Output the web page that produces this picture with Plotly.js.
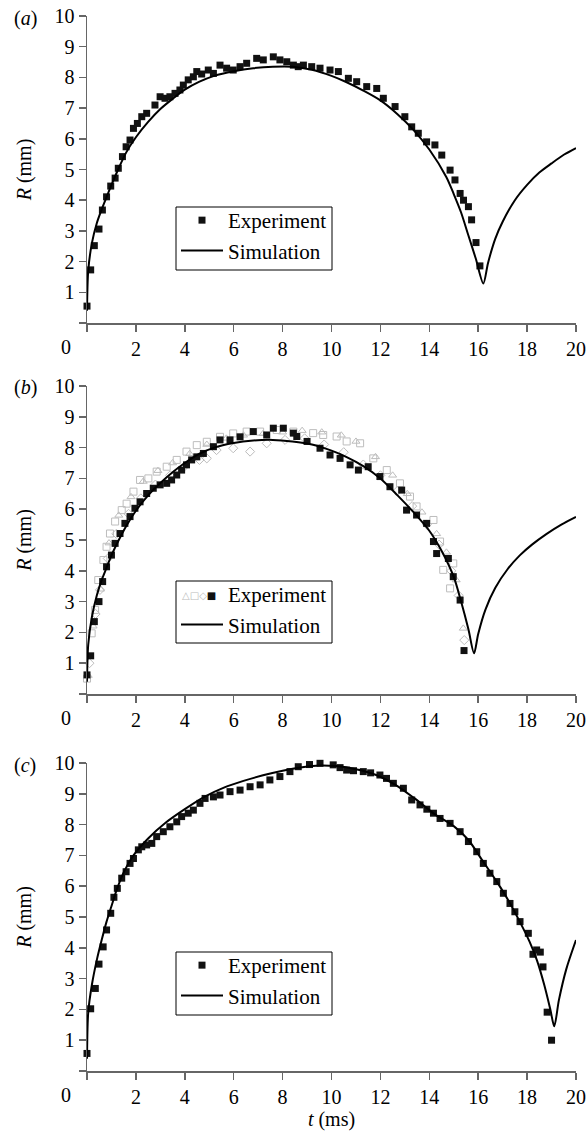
<!DOCTYPE html>
<html>
<head>
<meta charset="utf-8">
<script src="https://cdn.plot.ly/plotly-3.0.1.min.js"></script>
<style>html,body{margin:0;padding:0;background:#fff;}#chart{width:588px;height:1133px;}</style>
</head>
<body>
<div id="chart"></div>
<script>
// ---------- Panel (a) ----------
const expA_t = [0,0.15,0.3,0.49,0.63,0.8,0.97,1.15,1.28,1.45,1.6,1.76,1.9,2.06,2.24,2.44,2.78,2.99,3.19,3.39,3.6,3.8,3.94,4.14,4.35,4.49,4.69,4.96,5.17,5.44,5.71,5.98,6.26,6.53,6.94,7.21,7.62,7.89,8.17,8.44,8.64,8.85,9.19,9.53,9.94,10.28,10.69,11.03,11.44,11.85,12.12,12.6,13.0,13.28,13.55,13.89,14.23,14.51,14.85,15.05,15.26,15.4,15.6,15.73,15.91,16.07];
const expA_R = [0.55,1.73,2.52,3.06,3.68,4.11,4.46,4.72,5.04,5.42,5.74,5.96,6.34,6.5,6.72,6.83,7.1,7.37,7.32,7.37,7.48,7.59,7.75,7.92,8.02,8.19,8.11,8.24,8.13,8.4,8.3,8.24,8.35,8.46,8.62,8.57,8.67,8.57,8.51,8.4,8.35,8.4,8.35,8.3,8.24,8.19,7.97,7.86,7.7,7.64,7.32,7.05,6.72,6.39,6.18,5.9,5.8,5.47,4.98,4.66,4.22,4.0,3.79,3.36,2.62,1.86];
const simA_t = [0,0.05,0.2,0.4,0.6,0.8,1.0,1.3,1.6,2.0,2.5,3.0,3.5,4.0,4.6,5.2,6.0,6.8,7.6,8.4,9.2,10.0,10.6,11.3,12.0,12.7,13.35,14.0,14.7,15.0,15.3,15.6,15.9,16.21,16.4,16.7,17.0,17.5,18.0,18.5,19.0,19.5,20.0];
const simA_R = [0.4,1.7,2.6,3.25,3.7,4.1,4.5,5.05,5.55,6.05,6.55,6.97,7.3,7.6,7.86,8.05,8.2,8.3,8.35,8.35,8.25,8.05,7.85,7.57,7.25,6.8,6.29,5.65,4.75,4.2,3.6,2.85,2.1,1.29,1.95,2.75,3.3,4.0,4.5,4.9,5.2,5.48,5.7];

// ---------- Panel (b) ----------
const expB_sq_t = [0,0.15,0.3,0.49,0.64,0.8,1.0,1.15,1.35,1.55,1.76,1.96,2.17,2.44,2.71,2.99,3.26,3.46,3.67,3.87,4.07,4.28,4.49,4.76,5.17,5.44,5.85,6.26,6.8,7.35,7.62,8.03,8.44,8.58,9.0,9.53,9.94,10.35,10.76,11.1,11.5,11.98,12.39,12.87,13.07,13.48,13.89,14.17,14.3,14.78,14.98,15.26,15.42];
const expB_sq_R = [0.62,1.24,2.35,3.0,3.65,4.13,4.51,4.89,5.21,5.54,5.76,6.03,6.24,6.51,6.68,6.79,6.84,6.95,7.11,7.27,7.44,7.6,7.7,7.81,8.03,8.25,8.25,8.35,8.52,8.41,8.63,8.63,8.47,8.36,8.2,7.98,7.76,7.65,7.44,7.27,7.38,7.06,6.73,6.62,5.97,5.81,5.54,4.95,4.56,4.4,3.81,3.05,1.41];
const expB_os_t = [0,0.19,0.33,0.46,0.67,0.8,0.94,1.15,1.42,1.62,1.9,2.17,2.51,2.85,3.26,3.67,4.07,4.49,4.9,5.44,5.98,6.53,7.08,7.76,8.44,9.25,9.66,10.21,10.62,11.17,11.71,12.26,12.8,13.21,13.48,14.17,14.44,14.57,14.85,14.98];
const expB_os_R = [0.5,1.97,2.73,3.7,4.35,4.78,5.21,5.6,5.97,6.18,6.57,6.95,7.0,7.22,7.38,7.6,7.87,8.08,8.19,8.35,8.46,8.52,8.52,8.57,8.52,8.47,8.41,8.36,8.2,8.14,7.65,7.27,6.84,6.41,6.09,5.65,4.95,4.03,3.43,4.24];
const expB_tr_t = [0.05,0.25,0.55,0.9,1.3,1.8,2.3,2.9,3.5,4.2,4.9,5.7,6.4,7.2,8.0,8.8,9.6,10.4,11.0,11.8,12.5,13.1,13.7,14.3,14.7,15.1,15.39];
const expB_tr_R = [0.6,2.2,3.4,4.9,5.8,6.4,6.9,7.25,7.5,7.8,8.1,8.3,8.4,8.45,8.5,8.55,8.5,8.4,8.2,7.7,7.1,6.5,5.9,5.2,4.6,3.7,2.13];
const expB_di_t = [0.1,0.35,0.53,0.85,1.2,1.7,2.2,2.8,3.4,4.0,4.6,4.9,5.3,5.98,6.67,7.35,8.1,8.9,9.7,10.5,11.3,12.0,12.7,13.3,13.9,14.4,14.9,15.2,15.43];
const expB_di_R = [1.0,2.6,3.38,4.4,5.2,5.85,6.35,6.8,7.1,7.4,7.6,7.65,7.92,7.98,7.87,8.14,8.25,8.3,8.1,7.85,7.45,7.1,6.6,6.1,5.5,4.85,4.0,3.2,1.75];
const simB_t = [0,0.05,0.2,0.4,0.6,0.8,1.0,1.3,1.6,2.0,2.5,3.0,3.5,4.0,4.6,5.2,6.0,6.8,7.6,8.4,9.2,10.0,10.6,11.3,12.0,12.7,13.3,14.0,14.5,15.0,15.3,15.6,15.83,16.0,16.3,16.7,17.2,17.7,18.2,18.8,19.4,20.0];
const simB_R = [0.4,1.6,2.5,3.2,3.7,4.1,4.5,5.0,5.45,5.95,6.45,6.85,7.2,7.5,7.8,8.0,8.15,8.23,8.25,8.2,8.1,7.9,7.7,7.4,7.0,6.45,5.95,5.3,4.65,3.8,3.0,2.1,1.32,1.95,2.75,3.45,4.05,4.5,4.85,5.2,5.5,5.75];

// ---------- Panel (c) ----------
const expC_t = [0,0.15,0.34,0.49,0.66,0.8,0.97,1.1,1.24,1.42,1.6,1.76,1.9,2.1,2.24,2.44,2.65,2.85,3.12,3.39,3.67,3.87,4.14,4.35,4.62,4.83,5.17,5.44,5.85,6.26,6.67,7.08,7.48,7.89,8.3,8.64,9.1,9.53,10.07,10.35,10.62,10.9,11.3,11.6,11.98,12.25,12.53,12.94,13.28,13.62,13.9,14.17,14.44,14.85,15.26,15.6,15.94,16.21,16.48,16.76,17.03,17.3,17.5,17.71,18.05,18.24,18.39,18.54,18.65,18.82,19.0];
const expC_R = [0.57,2.02,2.68,3.47,4.03,4.58,5.12,5.64,5.93,6.26,6.47,6.74,6.9,7.18,7.28,7.34,7.39,7.61,7.77,7.93,8.09,8.26,8.37,8.47,8.69,8.85,8.9,8.96,9.07,9.12,9.23,9.29,9.45,9.56,9.72,9.88,9.95,9.99,9.94,9.85,9.77,9.75,9.72,9.68,9.61,9.5,9.34,9.18,8.8,8.64,8.5,8.37,8.2,8.04,7.77,7.45,7.12,6.74,6.42,6.15,5.77,5.44,5.17,4.85,4.47,3.79,3.93,3.86,3.38,1.91,1.0];
const simC_t = [0,0.05,0.2,0.4,0.6,0.8,1.0,1.2,1.5,1.9,2.5,3.2,4.0,4.8,5.6,6.4,7.2,8.0,8.8,9.5,10.2,11.0,11.8,12.6,13.4,14.2,15.0,15.6,16.2,16.8,17.3,17.7,18.1,18.4,18.7,18.95,19.11,19.3,19.6,20.0];
const simC_R = [0.4,1.9,2.8,3.6,4.25,4.85,5.35,5.85,6.45,7.0,7.55,8.05,8.5,8.9,9.2,9.42,9.6,9.75,9.86,9.92,9.9,9.8,9.62,9.3,8.85,8.35,7.95,7.5,6.8,6.1,5.45,4.85,4.2,3.6,2.8,2.0,1.45,2.3,3.3,4.25];

const xTicks = [0,2,4,6,8,10,12,14,16,18,20];
const xTickText = ['','2','4','6','8','10','12','14','16','18','20'];
const yTicks = [0,1,2,3,4,5,6,7,8,9,10];
const yTickText = ['','1','2','3','4','5','6','7','8','9','10'];
const panelLabels = ['(<i>a</i>)','(<i>b</i>)','(<i>c</i>)'];
const yTitle = '<i>R</i> (mm)';
const xTitle = '<i>t</i> (ms)';
const legExp = 'Experiment';
const legSim = 'Simulation';

const FONT = '"Liberation Serif", serif';
const GRAY = '#bdbdbd';

function expTrace(t, r, xa, ya, leg, show, symbol, color, name) {
  return {x: t, y: r, xaxis: xa, yaxis: ya, type: 'scatter', mode: 'markers', cliponaxis: false,
    marker: {symbol: symbol, size: 7, color: color, line: {width: symbol.indexOf('open') >= 0 ? 1 : 0, color: color}},
    name: name, legend: leg, showlegend: show};
}
function simTrace(t, r, xa, ya, leg) {
  return {x: t, y: r, xaxis: xa, yaxis: ya, type: 'scatter', mode: 'lines', cliponaxis: false,
    line: {color: '#000', width: 2, shape: 'spline', smoothing: 0.8}, name: legSim, legend: leg, showlegend: true};
}

const data = [
  expTrace(expA_t, expA_R, 'x', 'y', 'legend', true, 'square', '#111', legExp),
  simTrace(simA_t, simA_R, 'x', 'y', 'legend'),
  expTrace(expB_tr_t, expB_tr_R, 'x2', 'y2', 'legend2', false, 'triangle-up-open', GRAY, 'tri'),
  expTrace(expB_os_t, expB_os_R, 'x2', 'y2', 'legend2', false, 'square-open', GRAY, 'sq'),
  expTrace(expB_di_t, expB_di_R, 'x2', 'y2', 'legend2', false, 'diamond-open', GRAY, 'di'),
  expTrace(expB_sq_t, expB_sq_R, 'x2', 'y2', 'legend2', false, 'square', '#111', legExp),
  // legend-only entry for panel (b); its symbols are drawn as text below
  {x: [null], y: [null], xaxis: 'x2', yaxis: 'y2', type: 'scatter', mode: 'markers',
    marker: {symbol: 'square', size: 7, color: 'rgba(0,0,0,0)'}, name: legExp, legend: 'legend2', showlegend: true},
  simTrace(simB_t, simB_R, 'x2', 'y2', 'legend2'),
  expTrace(expC_t, expC_R, 'x3', 'y3', 'legend3', true, 'square', '#111', legExp),
  simTrace(simC_t, simC_R, 'x3', 'y3', 'legend3')
];

const H = 1133, W = 588;
const xDom = [87 / W, 576 / W];
const yPix = [[16, 323], [386, 694], [763, 1071]];
function yDom(i) { return [1 - yPix[i][1] / H, 1 - yPix[i][0] / H]; }

function xAxis(i, showTitle) {
  const ax = {domain: xDom, range: [0, 20], anchor: i === 0 ? 'y' : 'y' + (i + 1),
    tickvals: xTicks, ticktext: xTickText, ticks: 'outside', ticklen: 7, tickwidth: 1.5, tickcolor: '#666',
    showline: true, linecolor: '#666', linewidth: 1.5, showgrid: false, zeroline: false,
    tickfont: {family: FONT, size: 20, color: '#000'}, fixedrange: true};
  if (showTitle) ax.title = {text: xTitle, font: {family: FONT, size: 20, color: '#000'}, standoff: 4};
  return ax;
}
function yAxis(i) {
  return {domain: yDom(i), range: [0, 10], anchor: i === 0 ? 'x' : 'x' + (i + 1),
    tickvals: yTicks, ticktext: yTickText, ticks: 'outside', ticklen: 7, tickwidth: 1.5, tickcolor: '#666',
    showline: true, linecolor: '#666', linewidth: 1.5, showgrid: false, zeroline: false,
    tickfont: {family: FONT, size: 20, color: '#000'},
    title: {text: yTitle, font: {family: FONT, size: 20, color: '#000'}, standoff: 17}, fixedrange: true};
}
// legend boxes (pixel top/bottom) and the legend anchor positions
const legBoxTop = [207, 581, 952];
const legBoxBot = [270, 643, 1015];
const legLeft = 176, legRight = 332;
function legend(i) {
  return {x: legLeft / W, y: 1 - (legBoxTop[i] - 7) / H, xanchor: 'left', yanchor: 'top', xref: 'paper', yref: 'paper',
    bgcolor: 'rgba(0,0,0,0)', borderwidth: 0, itemwidth: 42,
    font: {family: FONT, size: 21, color: '#000'}, tracegroupgap: 0};
}
const shapes = [0, 1, 2].map(i => ({type: 'rect', xref: 'paper', yref: 'paper',
  x0: legLeft / W, x1: legRight / W, y0: 1 - legBoxBot[i] / H, y1: 1 - legBoxTop[i] / H,
  line: {color: '#000', width: 1}, fillcolor: 'rgba(0,0,0,0)', layer: 'above'}));

const annotations = [];
for (let i = 0; i < 3; i++) {
  annotations.push({xref: 'paper', yref: 'paper', x: 25 / W, y: 1 - (yPix[i][0] + 2) / H, text: panelLabels[i],
    showarrow: false, xanchor: 'center', yanchor: 'middle', font: {family: FONT, size: 20, color: '#000'}});
  annotations.push({xref: 'paper', yref: 'paper', x: 66 / W, y: 1 - (yPix[i][1] + 24) / H, text: '0',
    showarrow: false, xanchor: 'center', yanchor: 'middle', font: {family: FONT, size: 20, color: '#000'}});
}
// symbols of the four experiment series in legend (b)
annotations.push({xref: 'paper', yref: 'paper', x: 180 / W, y: 1 - 595 / H,
  text: '<span style="color:' + GRAY + '">△□◇</span>■',
  showarrow: false, xanchor: 'left', yanchor: 'middle', font: {family: 'DejaVu Sans', size: 10, color: '#111'}});

const layout = {
  width: W, height: H, margin: {l: 0, r: 0, t: 0, b: 0}, paper_bgcolor: '#fff', plot_bgcolor: 'rgba(0,0,0,0)',
  showlegend: true, font: {family: FONT, color: '#000'},
  xaxis: xAxis(0, false), xaxis2: xAxis(1, false), xaxis3: xAxis(2, true),
  yaxis: yAxis(0), yaxis2: yAxis(1), yaxis3: yAxis(2),
  legend: legend(0), legend2: legend(1), legend3: legend(2),
  shapes: shapes, annotations: annotations
};

Plotly.newPlot('chart', data, layout, {staticPlot: true, displayModeBar: false});
</script>
</body>
</html>
